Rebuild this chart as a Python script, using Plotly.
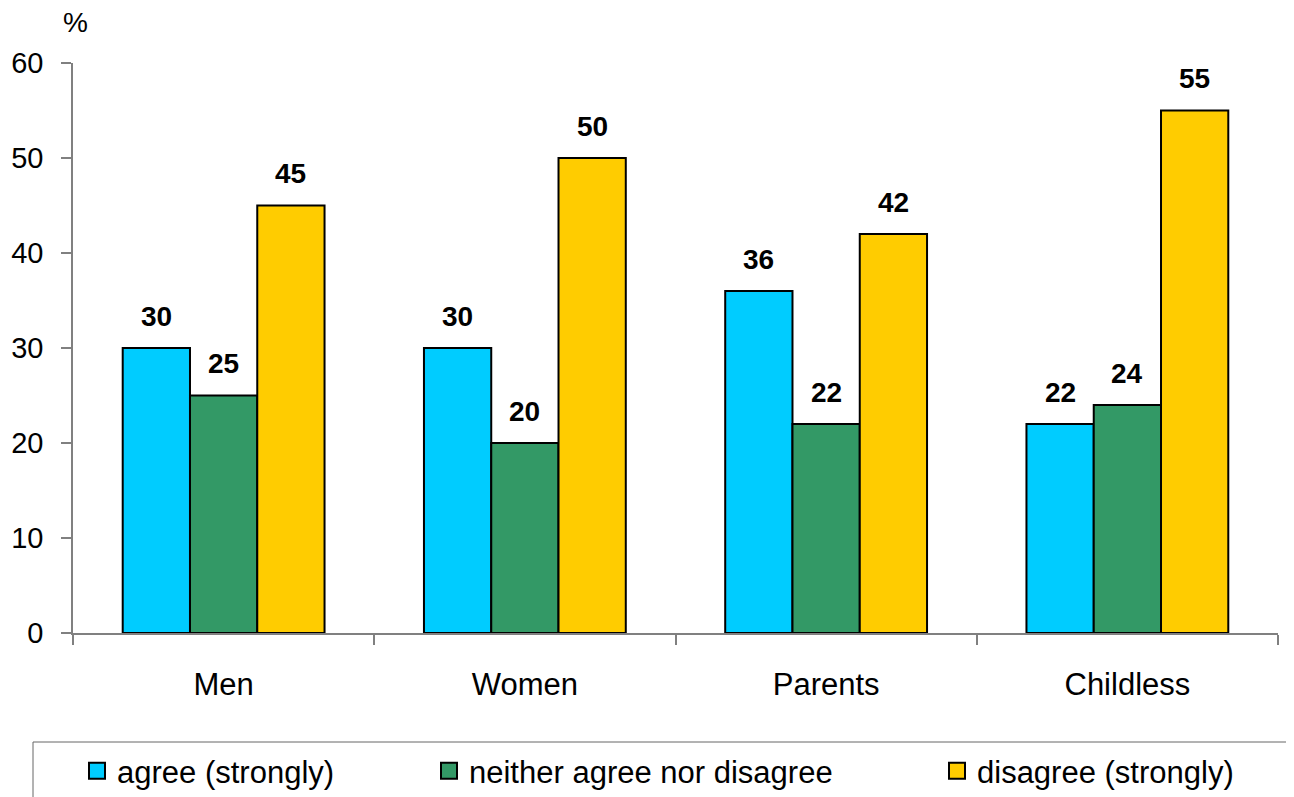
import plotly.graph_objects as go

groups = ['Men', 'Women', 'Parents', 'Childless']
series_names = ['agree (strongly)', 'neither agree nor disagree', 'disagree (strongly)']
agree = [30, 30, 36, 22]
neither = [25, 20, 22, 24]
disagree = [45, 50, 42, 55]
y_ticks = [0, 10, 20, 30, 40, 50, 60]

colors = ['#00CCFF', '#339966', '#FFCC00']
values = [agree, neither, disagree]

W, H = 1294, 797
# plot area on screen: x 73..1278, y 63..633 (page body adds 8px)
OFF = 8
L, R, T, B = 73, 16, 63, 164
plot_w = W - L - R
plot_h = H - T - B
bargap = 0.33
bar_px = plot_w / len(groups) * (1 - bargap) / 3
FONT = 'Liberation Sans, Arial'

fig = go.Figure()
for i, (name, vals, col) in enumerate(zip(series_names, values, colors)):
    fig.add_trace(go.Bar(
        x=groups, y=vals, name=name,
        marker=dict(color=col, line=dict(color='black', width=2)),
        showlegend=False, hoverinfo='x+y'
    ))
    # value labels above the bars
    for g, v in zip(groups, vals):
        fig.add_annotation(
            x=g, y=v, text='<b>%d</b>' % v, showarrow=False,
            xshift=(i - 1) * bar_px, yshift=32, yanchor='middle',
            font=dict(family=FONT, size=28, color='black')
        )

# legend entries (separate legends so they can be spaced like the original)
legend_x = [(77 - L) / plot_w, (429 - L) / plot_w, (937 - L) / plot_w]
leg_y = (T + plot_h - 771) / plot_h
for i, (name, col) in enumerate(zip(series_names, colors)):
    lg = 'legend' if i == 0 else 'legend%d' % (i + 1)
    fig.add_trace(go.Scatter(
        x=[None], y=[None], mode='markers', name=name, legend=lg,
        marker=dict(symbol='square', size=16, color=col,
                    line=dict(color='black', width=2)),
        showlegend=True
    ))
    fig.update_layout(**{lg: dict(
        x=legend_x[i], y=leg_y, xanchor='left', yanchor='middle',
        bgcolor='rgba(0,0,0,0)', itemsizing='trace',
        font=dict(family=FONT, size=31, color='black')
    )})

# legend frame
fig.add_shape(type='rect', xref='paper', yref='paper',
              x0=(33 - L) / plot_w, x1=1.2,
              y0=(T + plot_h - 742) / plot_h, y1=-0.6,
              line=dict(color='#666666', width=1), fillcolor='rgba(0,0,0,0)')

fig.add_annotation(xref='paper', yref='paper', x=(75 - L) / plot_w, y=1 + 41 / plot_h,
                   text='%', showarrow=False, xanchor='center', yanchor='middle',
                   font=dict(family=FONT, size=28, color='black'))

fig.update_layout(
    width=W, height=H,
    margin=dict(l=L - OFF, r=R + OFF, t=T - OFF, b=B + OFF, autoexpand=False),
    barmode='group', bargap=bargap, bargroupgap=0,
    plot_bgcolor='white', paper_bgcolor='white',
    font=dict(family=FONT, size=29, color='black'),
    xaxis=dict(
        showline=True, linecolor='#808080', linewidth=1.5,
        ticks='outside', tickson='boundaries', ticklen=10,
        tickcolor='#808080', tickwidth=1.5,
        ticklabelstandoff=23, showgrid=False,
        tickfont=dict(size=31)
    ),
    yaxis=dict(
        range=[0, 60], tickvals=y_ticks,
        showline=True, linecolor='#808080', linewidth=1.5,
        ticks='outside', ticklen=10, tickcolor='#808080', tickwidth=1.5,
        ticklabelstandoff=12, showgrid=False, zeroline=False,
        tickfont=dict(size=29)
    ),
)

fig.write_html('out.html')
